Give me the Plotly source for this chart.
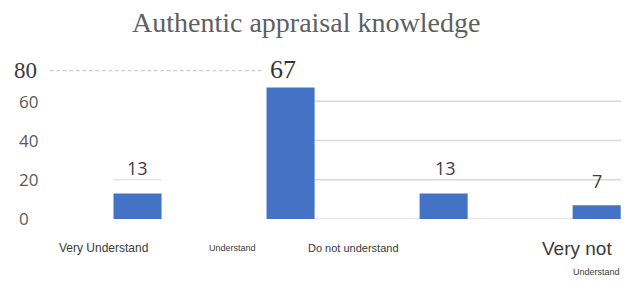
import plotly.graph_objects as go

# ---- data ----
categories = ["Very Understand", "Understand", "Do not understand", "Very not Understand"]
values = [13, 67, 13, 7]
y_ticks = [0, 20, 40, 60]
y_top_tick = 80
title_text = "Authentic appraisal knowledge"

# ---- style / layout constants ----
BAR_COLOR = "#4472C4"
GRID = "#d9d9d9"
bar_w = 0.314
x_max = 3 + bar_w / 2 + 0.002
idx = list(range(len(categories)))

fig = go.Figure(go.Bar(x=idx, y=values, marker_color=BAR_COLOR, width=bar_w,
                       marker_line_width=0, hoverinfo="skip"))

shapes = []
# gridlines only right of the second bar
for t in y_ticks:
    shapes.append(dict(type="line", xref="x", yref="y", x0=1 + bar_w / 2, x1=x_max,
                       y0=t, y1=t, line=dict(color=GRID, width=1.3), layer="below"))
# short line under first label
shapes.append(dict(type="line", xref="x", yref="y", x0=-bar_w / 2, x1=bar_w / 2,
                   y0=y_ticks[1], y1=y_ticks[1], line=dict(color="#dcdccc", width=1.2)))
# dashed top line
shapes.append(dict(type="line", xref="paper", yref="y", x0=-0.02, x1=0.362,
                   y0=75.6, y1=75.6, line=dict(color="#cfcfcf", width=1.2, dash="4px,2.5px")))

ann = []
# y tick labels
for t in y_ticks:
    ann.append(dict(xref="paper", yref="y", x=0, y=t, xanchor="left", yanchor="middle",
                    xshift=-44, yshift=1 if t == 0 else 0, text=str(t), showarrow=False,
                    font=dict(family="Open Sans", size=17, color="#595959")))
ann.append(dict(xref="paper", yref="y", x=0, y=y_top_tick, xanchor="left", yanchor="middle",
                xshift=-49, yshift=-8, text=str(y_top_tick), showarrow=False,
                font=dict(family="Liberation Serif", size=23, color="#3a3a3a")))

# value labels
lab_style = {
    0: dict(xs=0, ys=25, fam="Open Sans", size=18, col="#404040"),
    1: dict(xs=-8, ys=18, fam="Liberation Serif", size=26, col="#333333"),
    2: dict(xs=2, ys=25, fam="Open Sans", size=18, col="#404040"),
    3: dict(xs=0, ys=24, fam="Open Sans", size=18, col="#404040"),
}
for i, v in enumerate(values):
    s = lab_style[i]
    ann.append(dict(xref="x", yref="y", x=i, y=v, xanchor="center", yanchor="middle",
                    xshift=s["xs"], yshift=s["ys"], text=str(v), showarrow=False,
                    font=dict(family=s["fam"], size=s["size"], color=s["col"])))

# category labels (collage-like, individually placed)
cat_parts = [
    (0, "Very Understand", -34, 0, 12),
    (1, "Understand", -58, 0, 9),
    (2, "Do not understand", -90, 0, 11),
    (3, "Very not", -20, 0, 19),
    (3, "Understand", 0, -24, 9),
]
for i, txt, xs, ys, sz in cat_parts:
    ann.append(dict(xref="x", yref="paper", x=i, y=0, xanchor="center", yanchor="middle",
                    xshift=xs, yshift=-29 + ys, text=txt, showarrow=False,
                    font=dict(family="Liberation Sans", size=sz, color="#3a3a3a")))

# title
ann.append(dict(xref="paper", yref="paper", x=(305.5 - 61) / 560, y=1, xanchor="center",
                yanchor="middle", yshift=62 - 22, text=title_text, showarrow=False,
                font=dict(family="Liberation Serif", size=28, color="#5f5f5f")))

fig.update_layout(
    width=632, height=282,
    margin=dict(l=61, r=11, t=62, b=63),
    paper_bgcolor="white", plot_bgcolor="white",
    showlegend=False,
    xaxis=dict(range=[-0.5, x_max], showticklabels=False, showgrid=False,
               zeroline=False, showline=False, ticks=""),
    yaxis=dict(range=[0, 80], showticklabels=False, showgrid=False,
               zeroline=False, showline=False, ticks=""),
    shapes=shapes, annotations=ann,
)

fig.write_html("out.html", config={"displayModeBar": False},
               post_script="document.body.style.margin='0';document.body.style.overflow='hidden';")
